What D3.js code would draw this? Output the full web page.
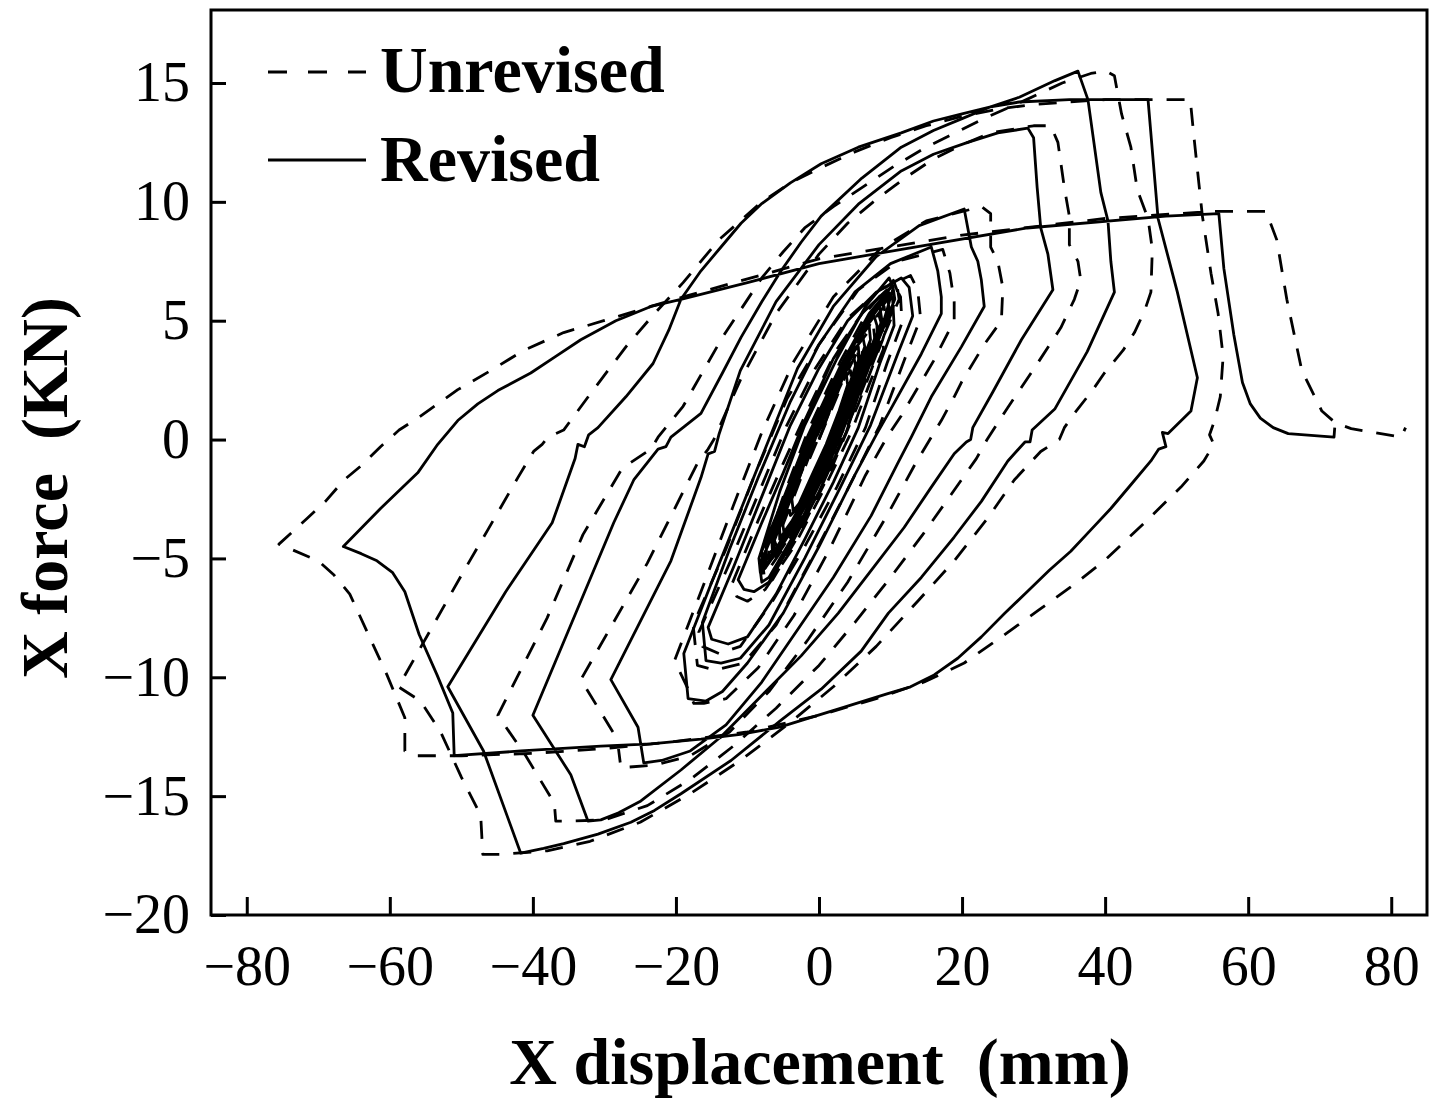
<!DOCTYPE html>
<html>
<head>
<meta charset="utf-8">
<script src="https://cdn.jsdelivr.net/npm/d3@7"></script>
<style>
  html, body { margin: 0; padding: 0; background: #fff; }
  svg { display: block; }
  text { font-family: "Liberation Serif", "Times New Roman", "DejaVu Serif", serif; fill: #000; }
</style>
</head>
<body>
<svg id="chart" width="1430" height="1099"></svg>
<script>
// Hysteresis record, displacement (mm) vs force (kN), one array per loading cycle.

const xTicks = [-80, -60, -40, -20, 0, 20, 40, 60, 80];
const yTicks = [-20, -15, -10, -5, 0, 5, 10, 15];

// ---- Revised model (solid) ----
const revisedLoop1 = [[0,0],[1.6,1.3],[3.2,2.5],[3.8,2.8],[4.0,2.3],[2.8,1.2],[1.0,-0.2],[-1.0,-1.5],[-2.8,-2.7],[-3.6,-3.0],[-3.8,-2.5],[-2.4,-1.3],[-0.6,0.1]];
const revisedLoop2 = [[1.5,1.5],[3.5,2.9],[4.8,3.6],[5.1,3.1],[3.6,1.7],[1.5,0],[-1,-1.8],[-3.5,-3.3],[-4.9,-3.9],[-5.2,-3.3],[-3.2,-1.7],[-1,0]];
const revisedLoop3 = [[2,2.1],[4.5,3.8],[6.0,4.5],[6.4,3.9],[4.6,2.4],[2.4,0.5],[0,-1.5],[-3,-3.4],[-5.8,-4.6],[-6.4,-4.1],[-4.4,-2.5],[-1.5,-0.2]];
const revisedLoop4 = [[-2,-1.0],[0,0.4],[2.5,2.2],[4.8,3.7],[5.5,3.9],[5.6,3.4],[4.2,2.2],[2,0.5],[0,-0.9],[-2.5,-2.7],[-4.8,-4.0],[-5.5,-4.2],[-5.5,-3.7]];
const revisedLoop5 = [[-3.5,-2.0],[-1,0],[2,2.1],[5,4.1],[7,4.8],[7.2,4.2],[5.4,2.8],[3,1],[0,-1.2],[-3,-3.1],[-5.8,-4.6],[-6.5,-4.8],[-6.6,-4.2]];
const revisedLoop6 = [[-4,-2.1],[-1,0.2],[2,2.3],[5.5,4.4],[8.5,5.6],[8.8,5.0],[6.6,3.4],[3.5,1.1],[0,-1.4],[-3.5,-3.4],[-6.5,-4.8],[-7.3,-5.0],[-7.4,-4.4]];
const revisedLoop7 = [[-4.5,-2.3],[-1,0.3],[3,2.9],[6.5,4.9],[9.5,6.1],[9.8,5.5],[7.5,3.8],[4,1.2],[0.5,-1.3],[-3.5,-3.6],[-7,-5.1],[-7.8,-5.3],[-8,-4.7]];
const revisedLoop8 = [[-5,-2.5],[-1.5,0.2],[3,3.1],[7,5.3],[10.3,6.5],[10.6,5.9],[8.2,4.1],[4.5,1.3],[0.5,-1.5],[-4,-3.9],[-7.5,-5.4],[-8.2,-5.6],[-8.4,-5.0]];
const revisedLoop8b = [[-5.5,-2.2],[-2,0.6],[2.5,3.4],[6.5,5.6],[9.8,6.8],[10.4,6.4],[8.4,4.3],[5,1.6],[1,-1.3],[-3.5,-4],[-7,-5.8],[-8,-6.0],[-8.3,-5.3]];
const revisedLoop9 = [[1,1.4],[4,3.6],[7.6,5.3],[8.1,4.8],[8.2,3.9],[6.2,2.5],[3.8,0.3],[0,-2.2],[-3.5,-4.2],[-7,-6],[-9.1,-6.4],[-10.5,-6.3],[-11.3,-5.9]];
const revisedLoop10 = [[-8,-3.5],[-5,-1.4],[-2,0.8],[2,3.4],[6,5.3],[9.5,6.3],[10.3,5.9],[10.5,4.8],[8.5,3.2],[5.5,0.5],[2,-1.8],[-2,-4.2],[-6,-6.5],[-10,-8.3],[-12.7,-8.6],[-15.0,-8.4],[-15.5,-7.9]];
const revisedLoop11 = [[-12,-5.4],[-8,-2.4],[-4,0.6],[0,3.0],[4,5],[8,6.2],[11.5,6.8],[12.6,6.4],[13.1,5.2],[11,3.6],[7.2,0.6],[3,-2],[-2,-5],[-7,-7.8],[-11,-9.2],[-13.7,-9.4],[-15.8,-9.3],[-16.3,-7.7]];
const revisedLoop12 = [[-12.5,-4.6],[-8.5,-1.6],[-4,1.6],[0,4],[5,6.2],[10,7.4],[15.7,8.1],[16.6,7.1],[17.1,6],[17.1,5.3],[14.3,3.6],[9.7,1.1],[8,0.2],[5,-1.5],[0,-4.5],[-5,-7.3],[-10,-9.4],[-13.5,-10.6],[-15.8,-11],[-18.3,-10.9],[-18.9,-9]];
const revisedLoop13 = [[-15,-6],[-11,-3],[-7,0],[-3,3],[2,5.6],[8,7.7],[14,9],[20.3,9.7],[21.3,8.1],[22.2,7.5],[22.7,6.7],[23.1,5.6],[19.9,3.9],[15.7,1.8],[12.9,0.1],[11,-1],[7.3,-3.2],[2,-5.8],[-3,-8],[-8,-10.2],[-13,-12],[-18,-13.1],[-22,-13.5],[-24.5,-13.6],[-25.3,-12.1],[-29.1,-10.1]];
const revisedLoop14 = [[-20.7,-5.1],[-16.5,-1.6],[-15.5,-0.6],[-14.6,-0.5],[-14,0.2],[-11,2.9],[-6,5.8],[0,8.2],[5.5,9.9],[11.5,11.3],[16,12],[20.8,12.5],[25,12.9],[29.2,13.1],[30,12.7],[30.5,10.6],[31,8.9],[32,7.8],[32.7,6.3],[28.3,4.2],[24.3,2],[21.5,0.5],[21.2,0],[20.6,-0.1],[18.9,-0.6],[15.7,-2],[11.9,-3.7],[7.3,-5.5],[2.7,-7.3],[-2.5,-9.1],[-8.1,-10.8],[-13.7,-12.5],[-19.3,-13.9],[-24.9,-15.2],[-28,-15.7],[-30.5,-16],[-32.3,-16.05],[-34.7,-14.1],[-40,-11.6]];
const revisedLoop15 = [[-28.7,-3.5],[-25.9,-1.7],[-22.5,-0.4],[-21.4,-0.3],[-20.7,0.1],[-16.5,1.1],[-13.5,2.8],[-10.9,4.3],[-8,5.8],[-5.3,7.1],[-2.5,8.3],[0.3,9.4],[6,11],[11.5,12.3],[16,13],[20,13.5],[24,14],[28,14.4],[33,15.1],[36.2,15.5],[37.6,14.3],[39.4,10.4],[40.4,9.2],[40.8,7.5],[41.3,6.2],[37.5,3.7],[33,1.3],[29.8,0.4],[29.5,-0.1],[28.8,-0.1],[26.4,-0.9],[22.7,-2.6],[18.9,-4.1],[14.3,-5.8],[9.7,-7.3],[5.9,-8.9],[0.3,-10.5],[-5.3,-11.8],[-12.3,-13.5],[-19.3,-14.9],[-23,-15.6],[-26.3,-16.1],[-30.9,-16.6],[-35.7,-17],[-38.5,-17.2],[-41.7,-17.4],[-46.9,-13.1],[-51.9,-10.4]];
const revisedLoop16 = [[-43.8,-6.4],[-37.3,-3.5],[-34.1,-0.8],[-33.7,-0.2],[-32.8,-0.3],[-32.2,0.2],[-30.9,0.5],[-27,1.8],[-23.2,3.2],[-21,4.6],[-19.3,5.9],[-16.5,7.1],[-13.7,8.1],[-10.9,9.1],[-8.1,9.9],[-4,10.8],[0.3,11.6],[5.5,12.3],[11.5,12.9],[16,13.4],[20,13.7],[24,14],[28,14.2],[35,14.3],[46,14.3],[47.4,9.3],[50.1,6.2],[52.9,2.6],[52,1.2],[48.8,0.25],[48.0,0.3],[48.5,-0.3],[47.5,-0.4],[46.4,-0.9],[43.6,-1.9],[40.8,-2.9],[38,-3.8],[35.2,-4.7],[32.2,-5.5],[29.1,-6.4],[26,-7.3],[22.7,-8.3],[19.4,-9.2],[16.1,-9.9],[12.8,-10.4],[9.5,-10.7],[3.1,-11.3],[-5.5,-12.1],[-11,-12.4],[-16.5,-12.6],[-23.5,-12.8],[-30.5,-12.9],[-41.7,-13.1],[-51,-13.3],[-51.2,-11.5],[-53.4,-9.9],[-55.9,-8.2],[-57.9,-6.4],[-59.6,-5.6],[-61.8,-5.1],[-64,-4.8],[-66.5,-4.5]];
const revisedLoop17 = [[-61.3,-2.9],[-56.1,-1.4],[-53.3,-0.2],[-50.5,0.8],[-47.7,1.5],[-44.9,2.06],[-40.3,2.8],[-36.8,3.5],[-33.3,4.2],[-28.4,5],[-23.5,5.6],[-19.3,5.9],[-10,6.6],[0,7.4],[13.4,8.1],[29.1,8.9],[48.5,9.4],[55.9,9.5],[56.6,7.2],[58,4.4],[59.2,2.4],[60.3,1.5],[61.7,0.9],[63.5,0.5],[65.6,0.25],[72,0.1],[72.1,0.5]];

// ---- Unrevised model (dashed) ----
const unrevisedLoop1 = [[0,0],[1.8,1.3],[3.6,2.6],[4.4,2.9],[4.6,2.4],[3.3,1.2],[1.4,-0.2],[-0.8,-1.6],[-3,-2.9],[-4.0,-3.2],[-4.2,-2.6],[-2.6,-1.3],[-0.6,0.2]];
const unrevisedLoop2 = [[1.8,1.6],[4,3],[5.4,3.7],[5.7,3.1],[4.1,1.7],[2,0],[-0.8,-2],[-3.6,-3.5],[-5.4,-4.1],[-5.7,-3.4],[-3.5,-1.7],[-1,0.2]];
const unrevisedLoop3 = [[2.2,2.3],[5,4],[6.7,4.7],[7.1,4.0],[5.1,2.4],[2.8,0.5],[0,-1.7],[-3.2,-3.6],[-6.4,-4.9],[-7,-4.3],[-4.8,-2.6],[-1.6,-0.1]];
const unrevisedLoop4 = [[-1.6,-1.0],[0.4,0.4],[2.9,2.2],[5.2,3.6],[6,3.9],[6.1,3.4],[4.6,2.2],[2.4,0.5],[0.4,-0.9],[-2.1,-2.7],[-4.4,-4.0],[-5.1,-4.3],[-5.2,-3.7]];
const unrevisedLoop5 = [[-3,-2.0],[-0.5,0],[2.5,2.1],[5.5,4.0],[7.6,4.8],[7.8,4.2],[5.9,2.8],[3.5,1],[0.5,-1.2],[-2.5,-3.1],[-5.4,-4.6],[-6.2,-4.9],[-6.3,-4.3]];
const unrevisedLoop6 = [[-3.5,-2.1],[-0.5,0.2],[2.5,2.3],[6,4.4],[9.1,5.6],[9.4,5.0],[7.1,3.4],[4,1.1],[0.5,-1.4],[-3,-3.4],[-6,-4.8],[-6.9,-5.1],[-7.0,-4.5]];
const unrevisedLoop7 = [[-4,-2.3],[-0.5,0.3],[3.5,2.9],[7,4.9],[10.1,6.1],[10.4,5.5],[8,3.8],[4.5,1.2],[1,-1.3],[-3,-3.6],[-6.6,-5.2],[-7.5,-5.4],[-7.6,-4.8]];
const unrevisedLoop8 = [[-4.5,-2.5],[-1,0.2],[3.5,3.1],[7.5,5.3],[10.9,6.5],[11.2,5.9],[8.7,4.1],[5,1.3],[1,-1.5],[-3.5,-3.9],[-7.1,-5.5],[-7.9,-5.7],[-8.1,-5.1]];
const unrevisedLoop8b = [[-5,-2.4],[-1.5,0.4],[3,3.3],[7,5.5],[10.4,6.7],[11,6.2],[8.9,4.2],[5.5,1.5],[1.5,-1.4],[-3,-4.1],[-6.5,-5.9],[-7.5,-6.1],[-7.8,-5.4]];
const unrevisedLoop9 = [[1.5,1.6],[4.5,3.8],[8.3,5.3],[8.9,4.7],[9,3.8],[7,2.3],[4.5,0.3],[0.5,-2.2],[-3.5,-4.5],[-7.5,-6.3],[-10,-6.8],[-11.5,-6.6],[-12.2,-6.1]];
const unrevisedLoop10 = [[-8.5,-3.4],[-5,-1],[-1.5,1.3],[2.5,3.8],[6.5,5.5],[10.5,6.5],[11.4,6.0],[11.6,4.9],[9.5,3.2],[6.5,0.5],[2.5,-2],[-2,-4.5],[-6.5,-6.8],[-11,-8.7],[-14,-9],[-16.3,-8.7],[-16.8,-8.1]];
const unrevisedLoop11 = [[-12.5,-5.2],[-8.5,-2.3],[-4.5,0.6],[-0.5,3],[4,5.1],[8.5,6.3],[12.8,6.9],[13.8,6.3],[14.2,5.1],[12,3.4],[8.5,0.6],[4,-2.1],[-1,-5],[-6,-7.8],[-10.5,-9.4],[-14.5,-9.7],[-17,-9.5],[-17.6,-7.8]];
const unrevisedLoop12 = [[-13,-4.6],[-9,-1.5],[-4.5,1.7],[0,4],[5.5,6.3],[11,7.5],[17.3,8.0],[18.3,7.0],[18.9,5.8],[18.9,5],[16,3.3],[11.5,1],[9.5,0.1],[6.5,-1.5],[1.5,-4.6],[-3.5,-7.4],[-8.5,-9.6],[-13,-10.9],[-16.1,-11.1],[-17.5,-11.1],[-18.3,-10.5],[-20.2,-9.3]];
const unrevisedLoop13 = [[-16,-6],[-12,-2.8],[-8,0.3],[-3.5,3.3],[2,6],[8.5,8],[15,9.2],[22.7,9.8],[24,9.5],[24,8.1],[25,7.5],[25.7,6.4],[25.5,5.0],[23.1,4],[21.7,3.3],[19.9,2.4],[18.9,1.8],[17.1,0.8],[15.7,0.1],[13.5,-1],[9.5,-3.2],[4,-6],[-1.5,-8.4],[-7,-10.6],[-12.5,-12.3],[-18,-13.3],[-23,-13.7],[-27.7,-13.8],[-28.2,-12.6],[-33.3,-10.1]];
const unrevisedLoop14 = [[-24,-5.2],[-17,-1],[-15.5,-0.4],[-14.7,0],[-11,2.5],[-6,5.3],[0,7.8],[4,9.1],[8,10.1],[12,11],[16,11.8],[20,12.4],[24,12.9],[30,13.2],[32.4,13.2],[33.4,12.5],[34.3,10.6],[35,9.4],[35,8.2],[36.2,7.5],[36.6,6.7],[35.7,5.9],[33.8,4.7],[30.1,3.0],[26.4,1.35],[23.5,0],[22,-0.8],[18.5,-2.3],[14.5,-4],[10,-5.8],[5,-7.7],[0,-9.5],[-6,-11.3],[-12,-12.9],[-18,-14.3],[-24,-15.4],[-30,-16],[-35.1,-16.05],[-36.8,-16.05],[-37,-15.3],[-41,-13.3],[-44.9,-11.6]];
const unrevisedLoop15 = [[-38,-7.5],[-33,-4],[-27.5,-1.2],[-23.5,-0.4],[-22.5,0.1],[-19,1.4],[-13.5,4.3],[-8,6.8],[-5,7.9],[-2,8.9],[2,9.8],[6,10.6],[10.5,11.5],[15,12.3],[19,12.9],[23,13.5],[29,14.3],[34,15],[38,15.4],[40.1,15.5],[41.3,15.3],[42.3,13.7],[43.6,12.3],[44.5,10.5],[46,9.3],[46.6,8.0],[46.4,6.2],[45.5,5.4],[44.1,4.5],[42.5,3.75],[39.9,2.8],[38.3,2.1],[35.7,1.1],[34.3,0.5],[33.6,0],[31,-0.5],[27.3,-1.7],[23.6,-3.3],[18.9,-5.1],[13.8,-6.8],[8,-8.7],[2,-10.4],[-4,-11.9],[-11,-13.5],[-18,-14.9],[-25,-16.1],[-32,-16.9],[-38,-17.3],[-44.5,-17.45],[-47,-17.45],[-47.3,-15.8],[-50,-14.2],[-52.9,-12.3],[-55.7,-11],[-58.8,-10.4]];
const unrevisedLoop16 = [[-49.6,-5.5],[-46.3,-3.8],[-42.1,-1.6],[-39.9,-0.5],[-38.7,-0.2],[-37.9,0.1],[-35.7,0.4],[-31.9,1.95],[-27,3.9],[-23,5.3],[-19,6.6],[-14,8.4],[-8,10],[-4,10.8],[0,11.4],[5,12.1],[10,12.7],[15,13.2],[20,13.6],[25,13.9],[30,14.1],[40,14.3],[51.9,14.3],[52.5,12.5],[53.1,10.8],[53.6,9.4],[54.8,7.0],[55.8,5.3],[56.5,3.5],[56.1,1.8],[55.3,0.8],[54.6,0.2],[55.2,-0.2],[53.8,-0.9],[50.6,-2.0],[45.5,-3.5],[39.9,-5.1],[35.2,-6.2],[30.6,-7.2],[25.5,-8.3],[20.3,-9.4],[14.7,-10.2],[8,-10.9],[0,-11.6],[-10,-12.3],[-20,-12.7],[-30,-13],[-40,-13.2],[-50,-13.3],[-56.6,-13.3],[-57.9,-13.1],[-57.9,-11.7],[-60.4,-9.9],[-63,-8.2],[-65.6,-6.5],[-67.8,-5.7],[-70,-5.1],[-75.5,-4.4]];
const unrevisedLoop17 = [[-71.5,-3.3],[-69,-2.6],[-66.4,-1.7],[-64,-1.1],[-61.3,-0.3],[-58.7,0.4],[-56.1,0.9],[-53.3,1.5],[-50.5,2.1],[-45.9,2.9],[-41.3,3.75],[-35.7,4.5],[-30.1,5.0],[-23.5,5.6],[-19,6.0],[0,7.6],[20,8.6],[40,9.3],[55,9.6],[62.5,9.6],[64,8.4],[65.4,5.9],[67.5,2.9],[70.3,1.2],[72.2,0.7],[74.4,0.46],[81.4,0.1],[82,0.5]];

const revisedPath = [].concat(revisedLoop1, revisedLoop2, revisedLoop3, revisedLoop4, revisedLoop5, revisedLoop6,
  revisedLoop7, revisedLoop8, revisedLoop8b, revisedLoop9, revisedLoop10, revisedLoop11, revisedLoop12, revisedLoop13,
  revisedLoop14, revisedLoop15, revisedLoop16, revisedLoop17);
const unrevisedPath = [].concat(unrevisedLoop1, unrevisedLoop2, unrevisedLoop3, unrevisedLoop4, unrevisedLoop5,
  unrevisedLoop6, unrevisedLoop7, unrevisedLoop8, unrevisedLoop8b, unrevisedLoop9, unrevisedLoop10, unrevisedLoop11,
  unrevisedLoop12, unrevisedLoop13, unrevisedLoop14, unrevisedLoop15, unrevisedLoop16, unrevisedLoop17);

const svg = d3.select("#chart");
const plot = { left: 211, right: 1427, top: 10, bottom: 915 };

const x = d3.scaleLinear().domain([-85, 85]).range([plot.left, plot.right]);
const y = d3.scaleLinear().domain([-20, 18.07]).range([plot.bottom, plot.top]);

const fmt = d => (d < 0 ? "\u2212" + Math.abs(d) : String(d));

// curves
const line = d3.line()
  .x(d => x(d[0]))
  .y(d => y(d[1]));

svg.append("path")
  .datum(unrevisedPath)
  .attr("d", line)
  .attr("fill", "none")
  .attr("stroke", "#000")
  .attr("stroke-width", 2.8)
  .attr("stroke-dasharray", "18,14")
  .attr("stroke-linejoin", "round");

svg.append("path")
  .datum(revisedPath)
  .attr("d", line)
  .attr("fill", "none")
  .attr("stroke", "#000")
  .attr("stroke-width", 2.8)
  .attr("stroke-linejoin", "round");

// axes with inward ticks
const yAxis = d3.axisLeft(y).tickValues(yTicks).tickFormat(fmt).tickSizeInner(-15).tickSizeOuter(0).tickPadding(21);
const xAxis = d3.axisBottom(x).tickValues(xTicks).tickFormat(fmt).tickSizeInner(-18).tickSizeOuter(0).tickPadding(30);

const gy = svg.append("g").attr("transform", `translate(${plot.left},0)`).call(yAxis);
const gx = svg.append("g").attr("transform", `translate(0,${plot.bottom})`).call(xAxis);
[gx, gy].forEach(g => {
  g.select(".domain").remove();
  g.selectAll(".tick line").attr("stroke", "#000").attr("stroke-width", 3);
  g.selectAll(".tick text")
    .attr("font-family", "'Liberation Serif', 'Times New Roman', serif")
    .attr("font-size", 56)
    .attr("fill", "#000");
});

// frame
svg.append("rect")
  .attr("x", plot.left).attr("y", plot.top)
  .attr("width", plot.right - plot.left).attr("height", plot.bottom - plot.top)
  .attr("fill", "none").attr("stroke", "#000").attr("stroke-width", 3);

// axis titles
svg.append("text")
  .attr("x", 820).attr("y", 1084)
  .attr("text-anchor", "middle")
  .attr("font-size", 66).attr("font-weight", "bold")
  .style("white-space", "pre")
  .text("X displacement  (mm)");

svg.append("text")
  .attr("transform", "translate(67,488) rotate(-90)")
  .attr("text-anchor", "middle")
  .attr("font-size", 66).attr("font-weight", "bold")
  .style("white-space", "pre")
  .text("X force  (KN)");

// legend
const legend = svg.append("g");
legend.append("line")
  .attr("x1", 268).attr("x2", 366).attr("y1", 72).attr("y2", 72)
  .attr("stroke", "#000").attr("stroke-width", 3).attr("stroke-dasharray", "19,21");
legend.append("text")
  .attr("x", 380).attr("y", 92)
  .attr("font-size", 66).attr("font-weight", "bold")
  .text("Unrevised");
legend.append("line")
  .attr("x1", 268).attr("x2", 366).attr("y1", 160).attr("y2", 160)
  .attr("stroke", "#000").attr("stroke-width", 3);
legend.append("text")
  .attr("x", 380).attr("y", 181)
  .attr("font-size", 66).attr("font-weight", "bold")
  .text("Revised");
</script>
</body>
</html>
